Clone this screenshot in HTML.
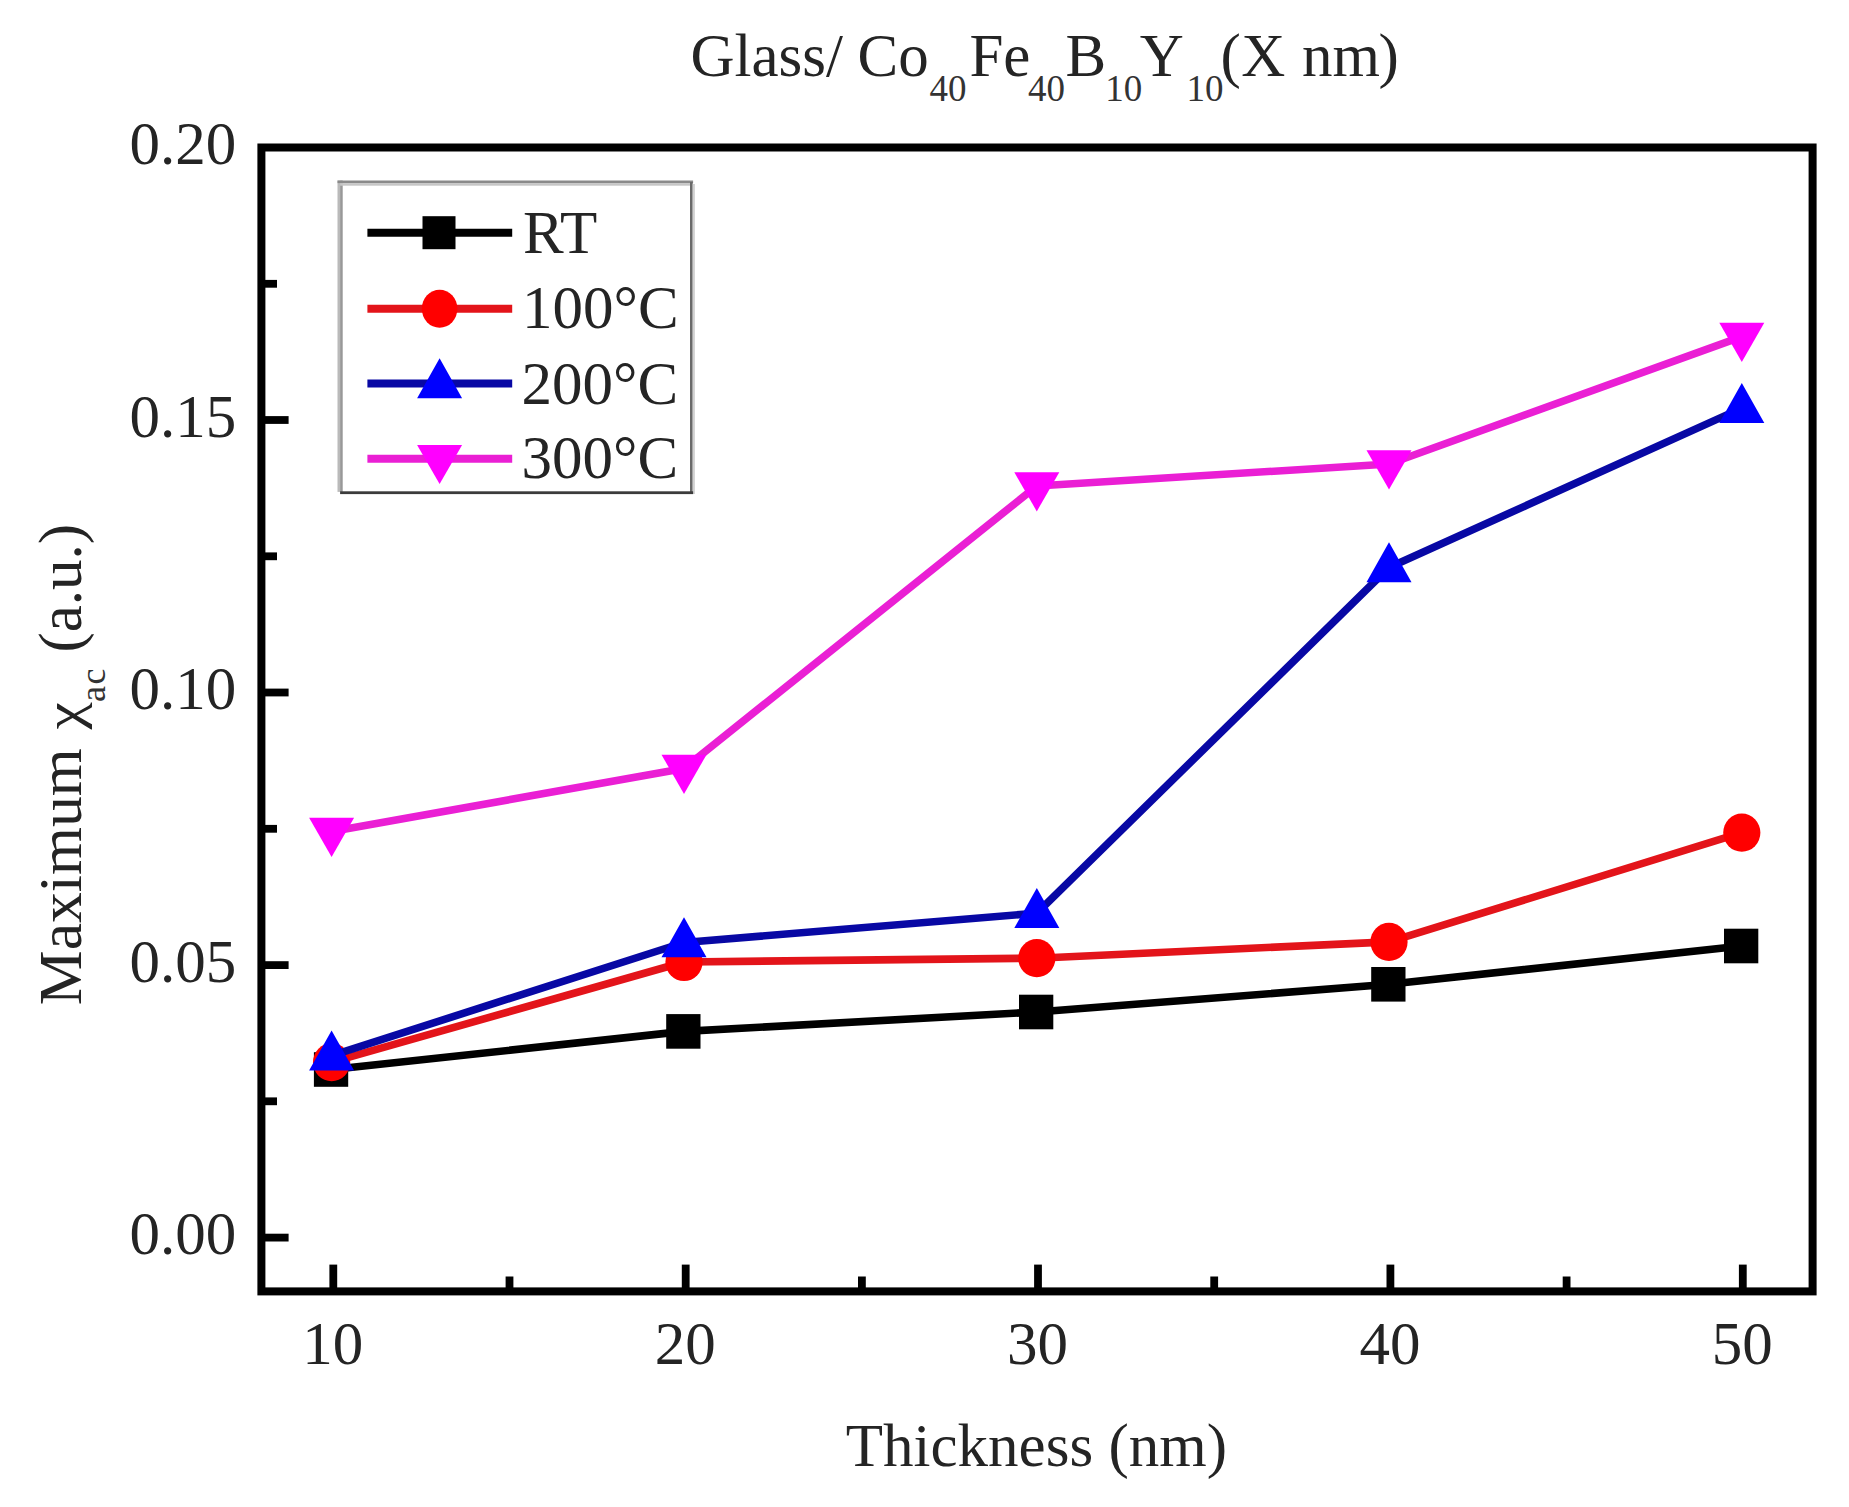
<!DOCTYPE html>
<html lang="en">
<head>
<meta charset="utf-8">
<title>Maximum susceptibility vs thickness</title>
<style>
html,body{margin:0;padding:0;background:#ffffff;}
body{width:1849px;height:1507px;overflow:hidden;}
svg{display:block;}
text{font-family:"Liberation Serif", serif;fill:#242424;}
.t{font-size:61px;}
.sub{font-size:37px;fill:#333333;}
</style>
</head>
<body>
<svg width="1849" height="1507" viewBox="0 0 1849 1507">
<rect x="0" y="0" width="1849" height="1507" fill="#ffffff"/>

<g id="title">
<text class="t" x="690.4" y="76.0">Glass/</text>
<text class="t" x="857.6" y="76.0">Co</text>
<text class="sub" x="929.6" y="100.5">40</text>
<text class="t" x="969.4" y="76.0">Fe</text>
<text class="sub" x="1028.0" y="100.5">40</text>
<text class="t" x="1065.4" y="76.0">B</text>
<text class="sub" x="1105.2" y="100.5">10</text>
<text class="t" x="1139.8" y="76.0">Y</text>
<text class="sub" x="1186.6" y="100.5">10</text>
<text class="t" x="1220.4" y="76.0">(</text>
<text class="t" x="1241.2" y="76.0">X</text>
<text class="t" x="1302.0" y="76.0">nm</text>
<text class="t" x="1378.6" y="76.0">)</text>
</g>
<rect x="261.4" y="147.5" width="1551.2" height="1143.9" fill="none" stroke="#000" stroke-width="8.0"/>
<g stroke="#000" stroke-width="7.8" stroke-linecap="butt">
<line x1="333.3" y1="1291.4" x2="333.3" y2="1264.6"/>
<line x1="685.7" y1="1291.4" x2="685.7" y2="1264.6"/>
<line x1="1038.0" y1="1291.4" x2="1038.0" y2="1264.6"/>
<line x1="1390.4" y1="1291.4" x2="1390.4" y2="1264.6"/>
<line x1="1742.8" y1="1291.4" x2="1742.8" y2="1264.6"/>
<line x1="509.5" y1="1291.4" x2="509.5" y2="1276.5"/>
<line x1="861.9" y1="1291.4" x2="861.9" y2="1276.5"/>
<line x1="1214.2" y1="1291.4" x2="1214.2" y2="1276.5"/>
<line x1="1566.6" y1="1291.4" x2="1566.6" y2="1276.5"/>
<line x1="261.4" y1="1237.6" x2="288.6" y2="1237.6"/>
<line x1="261.4" y1="965.1" x2="288.6" y2="965.1"/>
<line x1="261.4" y1="692.5" x2="288.6" y2="692.5"/>
<line x1="261.4" y1="420.0" x2="288.6" y2="420.0"/>
<line x1="261.4" y1="1101.3" x2="277" y2="1101.3"/>
<line x1="261.4" y1="828.8" x2="277" y2="828.8"/>
<line x1="261.4" y1="556.3" x2="277" y2="556.3"/>
<line x1="261.4" y1="283.8" x2="277" y2="283.8"/>
</g>
<g class="t" text-anchor="middle">
<text x="332.8" y="1364.2">10</text>
<text x="685.2" y="1364.2">20</text>
<text x="1037.5" y="1364.2">30</text>
<text x="1389.9" y="1364.2">40</text>
<text x="1742.3" y="1364.2">50</text>
</g>
<g class="t" text-anchor="end">
<text x="236.2" y="1254.2">0.00</text>
<text x="236.2" y="981.7">0.05</text>
<text x="236.2" y="709.1">0.10</text>
<text x="236.2" y="436.6">0.15</text>
<text x="236.2" y="164.1">0.20</text>
</g>
<text class="t" x="1036.4" y="1466.0" text-anchor="middle">Thickness (nm)</text>
<g id="ylabel" transform="translate(81.4,1005.2) rotate(-90)">
<text style="font-size:61.7px" x="0" y="0">Maximum</text>
<text id="chi" style="font-size:53px" transform="translate(275.6,0) scale(1.16,1)" x="0" y="0">χ</text>
<text id="ac" style="font-size:36px;letter-spacing:1.6px;fill:#333333" x="303.2" y="24.0">ac</text>
<text class="t" x="352.6" y="0">(a.u.)</text>
</g>
<g id="s-black">
<polyline points="331.6,1069.5 684.0,1031.4 1036.8,1012.0 1389.0,984.3 1741.8,946.0" fill="none" stroke="#000000" stroke-width="7.6" stroke-linejoin="round" stroke-linecap="butt"/>
<rect x="313.9" y="1052.2" width="34.3" height="34.6" fill="#000000"/>
<rect x="666.2" y="1014.1" width="34.3" height="34.6" fill="#000000"/>
<rect x="1019.0" y="994.7" width="34.3" height="34.6" fill="#000000"/>
<rect x="1371.2" y="967.0" width="34.3" height="34.6" fill="#000000"/>
<rect x="1724.0" y="928.7" width="34.3" height="34.6" fill="#000000"/>
</g>
<g id="s-red">
<polyline points="331.6,1062.2 684.0,962.0 1036.8,958.2 1389.0,941.9 1741.8,832.7" fill="none" stroke="#e3141a" stroke-width="7.6" stroke-linejoin="round" stroke-linecap="butt"/>
<ellipse cx="331.6" cy="1062.2" rx="18.6" ry="19.1" fill="#ff0000"/>
<ellipse cx="684.0" cy="962.0" rx="18.6" ry="19.1" fill="#ff0000"/>
<ellipse cx="1036.8" cy="958.2" rx="18.6" ry="19.1" fill="#ff0000"/>
<ellipse cx="1389.0" cy="941.9" rx="18.6" ry="19.1" fill="#ff0000"/>
<ellipse cx="1741.8" cy="832.7" rx="18.6" ry="19.1" fill="#ff0000"/>
</g>
<g id="s-blue">
<polyline points="331.6,1055.6 684.0,942.5 1036.8,913.2 1389.0,567.5 1741.8,408.1" fill="none" stroke="#0808a4" stroke-width="7.6" stroke-linejoin="round" stroke-linecap="butt"/>
<polygon points="331.6,1030.4 354.1,1070.4 309.1,1070.4" fill="#0000ff"/>
<polygon points="684.0,917.3 706.5,957.3 661.5,957.3" fill="#0000ff"/>
<polygon points="1036.8,888.0 1059.3,928.0 1014.3,928.0" fill="#0000ff"/>
<polygon points="1389.0,542.3 1411.5,582.3 1366.5,582.3" fill="#0000ff"/>
<polygon points="1741.8,382.9 1764.3,422.9 1719.3,422.9" fill="#0000ff"/>
</g>
<g id="s-pink">
<polyline points="331.6,831.5 684.0,768.5 1036.8,486.0 1389.0,464.0 1741.8,336.6" fill="none" stroke="#ea1fd4" stroke-width="7.6" stroke-linejoin="round" stroke-linecap="butt"/>
<polygon points="309.1,817.7 354.1,817.7 331.6,856.9" fill="#ff00ff"/>
<polygon points="661.5,754.7 706.5,754.7 684.0,793.9" fill="#ff00ff"/>
<polygon points="1014.3,472.2 1059.3,472.2 1036.8,511.4" fill="#ff00ff"/>
<polygon points="1366.5,450.2 1411.5,450.2 1389.0,489.4" fill="#ff00ff"/>
<polygon points="1719.3,322.8 1764.3,322.8 1741.8,362.0" fill="#ff00ff"/>
</g>
<g id="legend">
<rect x="340" y="183" width="352" height="309" fill="#ffffff"/>
<rect x="337.5" y="180.5" width="2.6" height="311.4" fill="#bababa"/><rect x="340.1" y="180.5" width="2.6" height="311.4" fill="#989898"/>
<rect x="337.5" y="180.5" width="355.6" height="2.6" fill="#8a8a8a"/><rect x="340.1" y="183.1" width="351" height="2.6" fill="#c6c6c6"/>
<rect x="690" y="182" width="2.7" height="312" fill="#6a6a6a"/><rect x="692.7" y="184" width="2.2" height="310" fill="#d2d2d2"/>
<rect x="340.1" y="491.3" width="353" height="2.8" fill="#3c3c3c"/>
<line x1="367.4" y1="232.7" x2="512.2" y2="232.7" stroke="#000000" stroke-width="8.0" stroke-linecap="butt"/>
<rect x="422.5" y="216.2" width="33.0" height="33.0" fill="#000000"/>
<text class="t" x="523.0" y="253.0">RT</text>
<line x1="367.4" y1="308.7" x2="512.2" y2="308.7" stroke="#e3141a" stroke-width="8.0" stroke-linecap="butt"/>
<ellipse cx="439.6" cy="308.7" rx="17.8" ry="19.0" fill="#ff0000"/>
<text class="t" x="522.0" y="327.6">100°C</text>
<line x1="367.4" y1="383.5" x2="512.2" y2="383.5" stroke="#0808a4" stroke-width="8.0" stroke-linecap="butt"/>
<polygon points="439.6,358.3 462.1,398.3 417.1,398.3" fill="#0000ff"/>
<text class="t" x="521.6" y="403.8">200°C</text>
<line x1="367.4" y1="458.7" x2="512.2" y2="458.7" stroke="#ea1fd4" stroke-width="8.0" stroke-linecap="butt"/>
<polygon points="417.1,444.9 462.1,444.9 439.6,484.1" fill="#ff00ff"/>
<text class="t" x="521.6" y="477.7">300°C</text>
</g>
</svg>
</body>
</html>
